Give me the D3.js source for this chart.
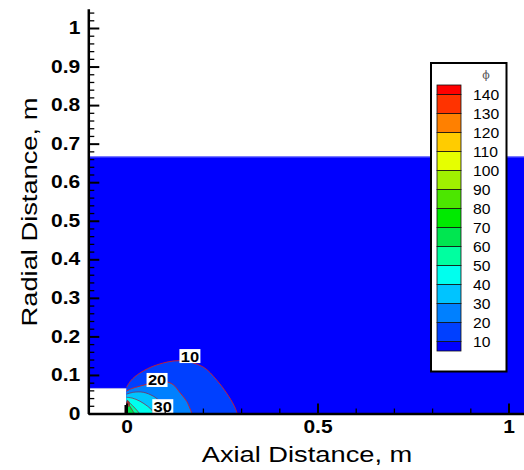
<!DOCTYPE html>
<html><head><meta charset="utf-8">
<script src="https://cdn.jsdelivr.net/npm/d3@7"></script>
<style>body{margin:0;background:#fff}svg{display:block}</style>
</head><body>
<script>
// ---------- data ----------
const xMajorTicks = [0, 0.5, 1];
const xMinorTicks = [0.1, 0.2, 0.3, 0.4, 0.6, 0.7, 0.8, 0.9];
const yMajorTicks = [0, 0.1, 0.2, 0.3, 0.4, 0.5, 0.6, 0.7, 0.8, 0.9, 1];
const yTickLabels = ["0", "0.1", "0.2", "0.3", "0.4", "0.5", "0.6", "0.7", "0.8", "0.9", "1"];
const levels = [10, 20, 30, 40, 50, 60, 70, 80, 90, 100, 110, 120, 130, 140];
const bandColors = ["#0000ff", "#0040ff", "#0080ff", "#00c4ff", "#00ffee", "#00ffa0", "#00e650",
  "#00ea00", "#4ce600", "#a0f000", "#e6ff00", "#ffcc00", "#ff8000", "#ff3300", "#ff0000"];
const domainTop = 0.667;        // upper edge of computed region
const nozzle = [0, 0.065];      // [x right edge, height] of blank inlet region
const wallTop = 0.022;
// contour iso-lines (x, r) in metres, each closes on the axis r=0 and wall x=0
const c10 = [[0, 0.068], [0.012, 0.086], [0.035, 0.105], [0.079, 0.126], [0.14, 0.137], [0.2, 0.121], [0.236, 0.087], [0.262, 0.053], [0.282, 0.02], [0.29, 0]];
const c20 = [[0, 0.058], [0.012, 0.064], [0.035, 0.071], [0.069, 0.079], [0.1, 0.083], [0.122, 0.075], [0.14, 0.054], [0.158, 0.031], [0.171, 0]];
const c30 = [[0, 0.05], [0.018, 0.055], [0.044, 0.055], [0.07, 0.045], [0.088, 0.031], [0.097, 0.017], [0.104, 0]];
const c40 = [[0, 0.042], [0.015, 0.04], [0.035, 0.032], [0.055, 0.019], [0.066, 0.009], [0.07, 0]];
const c50 = [[0.002, 0.034], [0.01, 0.026], [0.022, 0.014], [0.03, 0.005], [0.034, 0]];
const c60 = [[0.002, 0.028], [0.008, 0.02], [0.015, 0.009], [0.021, 0]];
const c70 = [[0.002, 0.034], [0.006, 0.031], [0.008, 0.025], [0.006, 0.019], [0.002, 0.016]];
const c90 = [[0.002, 0.032], [0.005, 0.03], [0.006, 0.026], [0.005, 0.021], [0.002, 0.019]];
const c110 = [[0.002, 0.031], [0.004, 0.029], [0.005, 0.026], [0.004, 0.023], [0.002, 0.021]];
const c130 = [[0.002, 0.03], [0.0035, 0.028], [0.004, 0.026], [0.003, 0.024], [0.002, 0.023]];
const contourSets = [
  {pts: c10, band: 1, closeAxis: true},
  {pts: c20, band: 2, closeAxis: true},
  {pts: c30, band: 3, closeAxis: true},
  {pts: c40, band: 4, closeAxis: true},
  {pts: c50, band: 5, closeAxis: true},
  {pts: c60, band: 6, closeAxis: true},
  {pts: c70, band: 8, closeAxis: false},
  {pts: c90, band: 10, closeAxis: false},
  {pts: c110, band: 12, closeAxis: false},
  {pts: c130, band: 14, closeAxis: false}
];
const contourLabels = [{t: "10", p: [0.166, 0.149]}, {t: "20", p: [0.08, 0.087]}, {t: "30", p: [0.095, 0.019]}];

// ---------- setup ----------
const W = 524, H = 470;
const FONT = "'Liberation Sans', Arial, Helvetica, sans-serif";
const svg = d3.select("body").append("svg").attr("width", W).attr("height", H)
  .style("font-family", FONT);
const x = d3.scaleLinear().domain([0, 1]).range([126.5, 508.5]);
const y = d3.scaleLinear().domain([0, 1]).range([413.5, 28]);
const xLo = -0.1, xHi = 1.08, yHi = 1.05;

const plot = svg.append("g");
plot.append("clipPath").attr("id", "clip").append("rect")
  .attr("x", x(xLo)).attr("y", y(yHi)).attr("width", x(xHi) - x(xLo)).attr("height", y(0) - y(yHi));
const pg = plot.append("g").attr("clip-path", "url(#clip)");

// computational domain
pg.append("rect").attr("x", x(xLo)).attr("y", y(domainTop))
  .attr("width", x(1.2) - x(xLo)).attr("height", y(0) - y(domainTop)).attr("fill", bandColors[0]);
pg.append("line").attr("x1", x(xLo)).attr("x2", x(1.2)).attr("y1", y(domainTop) + 0.5).attr("y2", y(domainTop) + 0.5)
  .attr("stroke", "#8c8cff").attr("stroke-width", 1);
pg.append("rect").attr("x", x(xLo)).attr("y", y(nozzle[1]))
  .attr("width", x(nozzle[0]) - x(xLo)).attr("height", y(0) - y(nozzle[1])).attr("fill", "#fff");
pg.append("line").attr("x1", x(xLo)).attr("x2", x(nozzle[0])).attr("y1", y(nozzle[1])).attr("y2", y(nozzle[1]))
  .attr("stroke", "#b8b8e8").attr("stroke-width", 0.8);

// contour fills
const arc = d3.line().x(d => x(d[0])).y(d => y(d[1])).curve(d3.curveCatmullRom.alpha(0.5));
const closed = d3.line().x(d => x(d[0])).y(d => y(d[1])).curve(d3.curveCatmullRomClosed.alpha(0.5));
contourSets.forEach(c => {
  const d = c.closeAxis ? arc(c.pts) + "L" + x(0) + "," + y(0) + "Z" : closed(c.pts);
  pg.append("path").attr("d", d).attr("fill", bandColors[c.band]);
});
// contour lines
contourSets.forEach((c, i) => {
  pg.append("path").attr("d", c.closeAxis ? arc(c.pts) : closed(c.pts))
    .attr("fill", "none").attr("stroke", i < 2 ? "#d02028" : "#902040").attr("stroke-width", i < 2 ? 1 : 0.8).attr("opacity", 0.9);
});
// wall
pg.append("line").attr("x1", x(0) - 1).attr("x2", x(0) - 1).attr("y1", y(0)).attr("y2", y(wallTop))
  .attr("stroke", "#000").attr("stroke-width", 2);

// contour labels
contourLabels.forEach(l => {
  const cx = x(l.p[0]), cy = y(l.p[1]);
  pg.append("rect").attr("x", cx - 10.5).attr("y", cy - 7).attr("width", 21).attr("height", 14).attr("fill", "#fff");
  pg.append("text").attr("transform", `translate(${cx},${cy + 5.5}) scale(1.1,1)`)
    .attr("text-anchor", "middle").attr("font-size", 15).attr("font-weight", "bold").text(l.t);
});

// ---------- axes ----------
const xAxisG = svg.append("g").attr("transform", `translate(0,${y(0)})`);
const xs = d3.scaleLinear().domain([xLo, xHi]).range([x(xLo), x(xHi)]);
xAxisG.call(d3.axisBottom(xs).tickValues(xMinorTicks).tickSize(-5).tickSizeOuter(0).tickFormat(""))
  .call(g => g.select(".domain").remove())
  .call(g => g.selectAll("line").attr("stroke-width", 1.3));
const xMaj = svg.append("g").attr("transform", `translate(0,${y(0)})`)
  .call(d3.axisBottom(xs).tickValues(xMajorTicks).tickSize(-10).tickSizeOuter(0).tickPadding(7.5).tickFormat(d3.format("")));
xMaj.select(".domain").attr("stroke-width", 2.5);
xMaj.selectAll("line").attr("stroke-width", 2);
xMaj.selectAll("text").attr("font-size", 17.5).attr("font-weight", "bold").attr("font-family", FONT)
  .attr("transform", "scale(1.2,1)").attr("fill", "#000");

const ys = d3.scaleLinear().domain([0, yHi]).range([y(0), y(yHi)]);
const yMinor = d3.range(1, 53).map(i => i * 0.02).filter(v => Math.round(v * 50) % 5 !== 0);
svg.append("g").attr("transform", `translate(${x(xLo)},0)`)
  .call(d3.axisLeft(ys).tickValues(yMinor).tickSize(-6).tickSizeOuter(0).tickFormat(""))
  .call(g => g.select(".domain").remove())
  .call(g => g.selectAll("line").attr("stroke-width", 1.3));
const yMaj = svg.append("g").attr("transform", `translate(${x(xLo)},0)`)
  .call(d3.axisLeft(ys).tickValues(yMajorTicks).tickSize(-11).tickSizeOuter(0).tickPadding(8)
    .tickFormat((d, i) => yTickLabels[i]));
yMaj.select(".domain").attr("stroke-width", 2.5);
yMaj.selectAll("line").attr("stroke-width", 2);
yMaj.selectAll("text").attr("font-size", 17.5).attr("font-weight", "bold").attr("font-family", FONT)
  .attr("transform", "scale(1.2,1)").attr("x", -8 / 1.2).attr("fill", "#000");

// axis titles
svg.append("text").attr("transform", `translate(307,462) scale(1.24,1)`).attr("text-anchor", "middle")
  .attr("font-size", 22).text("Axial Distance, m");
svg.append("text").attr("transform", `translate(37,212) rotate(-90) scale(1.24,1)`).attr("text-anchor", "middle")
  .attr("font-size", 22).text("Radial Distance, m");

// ---------- legend ----------
const lg = svg.append("g");
lg.append("rect").attr("x", 431).attr("y", 63).attr("width", 75.5).attr("height", 308.5)
  .attr("fill", "#fff").attr("stroke", "#000").attr("stroke-width", 2);
const barTop = 85, barBot = 351, unit = (barBot - barTop) / (levels.length);
const ly = d3.scaleLinear().domain([levels[0], levels[levels.length - 1]])
  .range([barBot - unit / 2, barTop + unit / 2]);
const edges = [barBot, ...levels.map(v => ly(v)), barTop];
bandColors.forEach((c, i) => {
  lg.append("rect").attr("x", 437).attr("y", edges[i + 1]).attr("width", 24).attr("height", edges[i] - edges[i + 1])
    .attr("fill", c).attr("stroke", "#111").attr("stroke-width", 0.8);
});
levels.forEach(v => {
  lg.append("text").attr("transform", `translate(473,${ly(v) + 5}) scale(1.12,1)`)
    .attr("font-size", 14).text(v);
});
lg.append("text").attr("x", 486).attr("y", 79).attr("text-anchor", "middle").attr("font-size", 11)
  .attr("fill", "#555").attr("font-family", "'DejaVu Serif', serif").text("ϕ");
</script>
</body></html>
